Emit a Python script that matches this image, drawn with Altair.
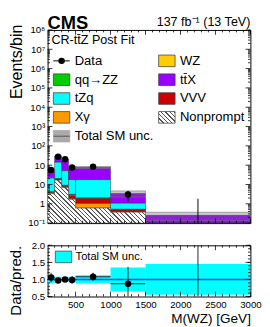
import math
import altair as alt
import pandas as pd

# ---------------- data ----------------
edges = [100, 200, 300, 400, 500, 1000, 1500, 3000]
processes = ["Nonprompt", "Xγ", "VVV", "WZ", "qq→ZZ", "tZq", "tt̄X"]
nonprompt = [3.3, 17.0, 7.0, 1.7, 0.6, 0.37, 0.04]
xgamma = [0.4, 1.0, 0.7, 0.2, 0.47, 0.02, 0.005]
vvv = [0.3, 1.5, 1.0, 0.9, 0.83, 0.11, 0.01]
wz = [0.2, 0.5, 0.3, 0.2, 0.1, 0.02, 0.005]
zz = [0.1, 0.3, 0.2, 0.1, 0.05, 0.01, 0.002]
tzq = [17.7, 125.0, 43.0, 15.0, 16.0, 0.57, 0.03]
ttx = [32.0, 135.0, 148.0, 58.0, 58.0, 2.33, 0.16]
data_obs = [57, 272, 200, 75, 82, 3, 0]
data_err_lo = [7.5, 16.5, 14.1, 8.7, 9.1, 1.7, 0.0]
data_err_hi = [7.5, 16.5, 14.1, 8.7, 9.1, 1.7, 1.84]
rel_unc = [0.12, 0.08, 0.07, 0.08, 0.12, 0.35, 0.45]

proc_colors = ["#ffffff", "#ff9900", "#cc0000", "#ffcc00", "#00cc00", "#00ffff", "#9900ff"]

x_major = [500, 1000, 1500, 2000, 2500, 3000]
y_major = [0.1, 1, 10, 1e2, 1e3, 1e4, 1e5, 1e6, 1e7, 1e8, 1e9]
r_major = [0.5, 1.0, 1.5, 2.0]

FONT = "Liberation Sans"
W, H, RH = 210, 200, 53
YMIN, YMAX = 0.1, 1e9

xs = alt.Scale(domain=[edges[0], edges[-1]], nice=False, zero=False)
ys = alt.Scale(type="log", domain=[YMIN, YMAX], nice=False, clamp=True)
rs = alt.Scale(domain=[0.5, 2.0], nice=False, zero=False, clamp=True)

AX_MAIN_Y = alt.Axis(
    values=y_major,
    labelExpr="datum.value == 1 ? '1' : datum.value == 10 ? '10' : datum.value < 1 ? '10⁻¹' : '10' + ['','','','²','³','⁴','⁵','⁶','⁷','⁸','⁹'][round(log(datum.value)/LN10)]",
    ticks=False, domain=False, grid=False, labelFontSize=10, labelPadding=3, labelOverlap=False,
    labelFont=FONT, titleFont=FONT,
    title="Events/bin", titleFontSize=16.5, titleFontWeight="normal", titleX=-27, titleY=-6,
    titleAlign="right", titleBaseline="alphabetic", titleAngle=270)
AX_R_X = alt.Axis(
    values=x_major, ticks=False, domain=False, grid=False, labelFontSize=10, labelPadding=3,
    labelFlush=False, format="d", labelFont=FONT, titleFont=FONT,
    title="M(WZ) [GeV]", titleFontSize=14, titleFontWeight="normal", titleX=W, titleY=27,
    titleAlign="right", titleBaseline="alphabetic")
AX_R_Y = alt.Axis(
    values=r_major, format=".1f", ticks=False, domain=False, grid=False, labelFontSize=10, labelPadding=3,
    labelFont=FONT, titleFont=FONT,
    title="Data/pred.", titleFontSize=15.5, titleFontWeight="normal", titleX=-28, titleY=0,
    titleAlign="right", titleBaseline="alphabetic", titleAngle=270)

lo, hi = edges[:-1], edges[1:]
centers = [(a + b) / 2 for a, b in zip(lo, hi)]
nb = len(lo)


def hatch_gradient(w, h, period=3.2, lw=1.0, line="#555555", bg="#ffffff"):
    a = (w + h) * w * h / (w * w + h * h)
    span = (w + h) / math.sqrt(2)
    step = period / span
    frac = lw / span
    stops = []
    t = 0.0
    while t < 1:
        t1 = min(t + frac, 1.0)
        t2 = min(t + step, 1.0)
        stops += [(t, line), (t1, line), (t1, bg), (t2, bg)]
        t += step
    return alt.LinearGradient(
        gradient="linear", x1=0, y1=1, x2=a / h, y2=1 - a / w,
        stops=[alt.GradientStop(offset=round(o, 5), color=c) for o, c in stops])


def MX(field):
    return alt.X(field, scale=xs, axis=None)


def MY(field):
    return alt.Y(field, scale=ys, axis=AX_MAIN_Y)


def RX(field):
    return alt.X(field, scale=xs, axis=AX_R_X)


def RY(field):
    return alt.Y(field, scale=rs, axis=AX_R_Y)


# ---------------- stack ----------------
series = [nonprompt, xgamma, vvv, wz, zz, tzq, ttx]
rows = []
cum = [0.0] * nb
for name, vals in zip(processes, series):
    for i in range(nb):
        base = cum[i]
        top = base + vals[i]
        if name != "Nonprompt":
            rows.append(dict(proc=name, x=lo[i], x2=hi[i], y=max(base, 1e-3), y2=top))
        cum[i] = top
total = cum[:]
stack_df = pd.DataFrame(rows)

stack = alt.Chart(stack_df).mark_rect(stroke="#333333", strokeWidth=0.5, clip=True).encode(
    x=MX("x:Q"), x2="x2:Q", y=MY("y:Q"), y2="y2:Q",
    color=alt.Color("proc:N", scale=alt.Scale(domain=processes, range=proc_colors), legend=None),
)

np_df = pd.DataFrame({"x": edges, "y": nonprompt + [nonprompt[-1]], "b": [YMIN] * len(edges)})
np_h = H / math.log10(YMAX / YMIN) * math.log10(max(nonprompt) / YMIN)
np_area = alt.Chart(np_df).mark_area(
    interpolate="step-after", fill=hatch_gradient(W, np_h), stroke="#444444", strokeWidth=0.6, clip=True
).encode(x=MX("x:Q"), y=MY("y:Q"), y2="b:Q")

unc_df = pd.DataFrame({"x": lo, "x2": hi,
                       "y": [t * (1 - u) for t, u in zip(total, rel_unc)],
                       "y2": [t * (1 + u) for t, u in zip(total, rel_unc)]})
unc_band = alt.Chart(unc_df).mark_rect(fill="#666666", fillOpacity=0.35, stroke="#777777",
                                       strokeOpacity=0.8, strokeWidth=0.8, clip=True).encode(
    x=MX("x:Q"), x2="x2:Q", y=MY("y:Q"), y2="y2:Q")

dat_df = pd.DataFrame({"x": centers, "y": data_obs,
                       "lo": [max(d - e, 1e-3) for d, e in zip(data_obs, data_err_lo)],
                       "hi": [d + e for d, e in zip(data_obs, data_err_hi)]})
dat_err = alt.Chart(dat_df).mark_rule(color="black", strokeWidth=1, clip=True).encode(
    x=MX("x:Q"), y=MY("lo:Q"), y2="hi:Q")
dat_pts = alt.Chart(dat_df[dat_df["y"] > 0]).mark_circle(color="black", size=45, opacity=1).encode(
    x=MX("x:Q"), y=MY("y:Q"))


def ticks_y(vals, ych, length, width):
    df = pd.DataFrame({"v": vals})
    left = alt.Chart(df).mark_rule(color="black", strokeWidth=0.8).encode(
        y=ych("v:Q"), x=alt.value(0), x2=alt.value(length))
    right = alt.Chart(df).mark_rule(color="black", strokeWidth=0.8).encode(
        y=ych("v:Q"), x=alt.value(width), x2=alt.value(width - length))
    return [left, right]


def ticks_x(vals, xch, length, height):
    df = pd.DataFrame({"v": vals})
    bot = alt.Chart(df).mark_rule(color="black", strokeWidth=0.8).encode(
        x=xch("v:Q"), y=alt.value(height), y2=alt.value(height - length))
    top = alt.Chart(df).mark_rule(color="black", strokeWidth=0.8).encode(
        x=xch("v:Q"), y=alt.value(0), y2=alt.value(length))
    return [bot, top]


x_minor = [v for v in range(200, 3000, 100) if v % 500 != 0]
y_minor = [m * 10.0 ** k for k in range(-1, 9) for m in range(2, 10)]
r_minor = [round(0.5 + 0.1 * i, 2) for i in range(16)]

main_ticks = (ticks_y(y_major, MY, 5, W) + ticks_y(y_minor, MY, 2.5, W)
              + ticks_x(x_major, MX, 5, H) + ticks_x(x_minor, MX, 2.5, H))


def txt(s, x, y, size, align="left", baseline="alphabetic", weight="normal"):
    return alt.Chart(pd.DataFrame({"t": [s]})).mark_text(
        align=align, baseline=baseline, fontSize=size, fontWeight=weight, font=FONT, color="black"
    ).encode(text="t:N", x=alt.value(x), y=alt.value(y))


def box(x0, y0, w, h, fill, stroke="#444444"):
    return alt.Chart(pd.DataFrame({"a": [0]})).mark_rect(fill=fill, stroke=stroke, strokeWidth=0.8).encode(
        x=alt.value(x0), x2=alt.value(x0 + w), y=alt.value(y0), y2=alt.value(y0 + h))


texts = [
    txt("CMS", 0, -1, 19, weight="bold"),
    txt("137 fb⁻¹ (13 TeV)", W, -4, 13, align="right"),
    txt("CR-tt̄Z Post Fit", 4, 15, 13),
]

# legend
leg_left = ["Data", "qq→ZZ", "tZq", "Xγ", "Total SM unc."]
leg_right = ["WZ", "tt̄X", "VVV", "Nonprompt"]
color_of = dict(zip(processes, proc_colors))
legend_layers = []
for col, labels in enumerate([leg_left, leg_right]):
    bx = 6 if col == 0 else 115
    for r, lab in enumerate(labels):
        cy = 32 + r * 19.5
        if lab == "Data":
            legend_layers.append(alt.Chart(pd.DataFrame({"a": [0]})).mark_rule(color="black", strokeWidth=1).encode(
                x=alt.value(bx), x2=alt.value(bx + 17), y=alt.value(cy)))
            legend_layers.append(alt.Chart(pd.DataFrame({"a": [0]})).mark_circle(color="black", size=45, opacity=1).encode(
                x=alt.value(bx + 8.5), y=alt.value(cy)))
        elif lab == "Total SM unc.":
            legend_layers.append(box(bx, cy - 6, 17, 12, "#aaaaaa", "#aaaaaa"))
            legend_layers.append(alt.Chart(pd.DataFrame({"a": [0]})).mark_rule(color="#555555", strokeWidth=1).encode(
                x=alt.value(bx), x2=alt.value(bx + 17), y=alt.value(cy)))
        elif lab == "Nonprompt":
            legend_layers.append(alt.Chart(pd.DataFrame({"a": [0]})).mark_rect(
                fill=hatch_gradient(17, 12), stroke="#444444", strokeWidth=0.8).encode(
                x=alt.value(bx), x2=alt.value(bx + 17), y=alt.value(cy - 6), y2=alt.value(cy + 6)))
        else:
            legend_layers.append(box(bx, cy - 6, 17, 12, color_of[lab]))
        legend_layers.append(txt(lab, bx + 22, cy, 13.5, baseline="middle"))

main = alt.layer(stack, np_area, unc_band, dat_err, dat_pts, *main_ticks, *texts, *legend_layers).properties(
    width=W, height=H)

# ---------------- ratio panel ----------------
ratio = [d / t for d, t in zip(data_obs, total)]
band_df = pd.DataFrame({"x": lo, "x2": hi, "y": [1 - u for u in rel_unc], "y2": [1 + u for u in rel_unc]})
band = alt.Chart(band_df).mark_rect(fill="#00ffff", clip=True).encode(
    x=RX("x:Q"), x2="x2:Q", y=RY("y:Q"), y2="y2:Q")

one_df = pd.DataFrame({"x": [edges[0]], "x2": [edges[-1]], "y": [1.0]})
one_line = alt.Chart(one_df).mark_rule(color="#1a3cff", strokeWidth=1.5).encode(
    x=RX("x:Q"), x2="x2:Q", y=RY("y:Q"))

r_df = pd.DataFrame({
    "x": centers, "xl": lo, "xh": hi, "r": ratio, "obs": data_obs,
    "lo": [r - e / t for r, e, t in zip(ratio, data_err_lo, total)],
    "hi": [r + e / t for r, e, t in zip(ratio, data_err_hi, total)],
})
r_vert = alt.Chart(r_df).mark_rule(color="#222222", strokeWidth=1, clip=True).encode(
    x=RX("x:Q"), y=RY("lo:Q"), y2="hi:Q")
r_hor = alt.Chart(r_df[r_df["obs"] > 0]).mark_rule(color="#222222", strokeWidth=1, clip=True).encode(
    x=RX("xl:Q"), x2="xh:Q", y=RY("r:Q"))
r_pts = alt.Chart(r_df[r_df["obs"] > 0]).mark_circle(color="black", size=45, opacity=1).encode(
    x=RX("x:Q"), y=RY("r:Q"))

ratio_ticks = (ticks_y(r_major, RY, 5, W) + ticks_y(r_minor, RY, 2.5, W)
               + ticks_x(x_major, RX, 5, RH) + ticks_x(x_minor, RX, 2.5, RH))
ratio_leg = [box(8, 6, 17, 12, "#00ffff"), txt("Total SM unc.", 29, 12.5, 11.5, baseline="middle")]

ratio_panel = alt.layer(band, one_line, r_vert, r_hor, r_pts, *ratio_ticks, *ratio_leg).properties(width=W, height=RH)

chart = alt.vconcat(main, ratio_panel, spacing=11).properties(padding=0).configure_view(
    stroke="black", strokeWidth=1)

chart.save("out.html", embed_options={"renderer": "svg", "actions": False})
